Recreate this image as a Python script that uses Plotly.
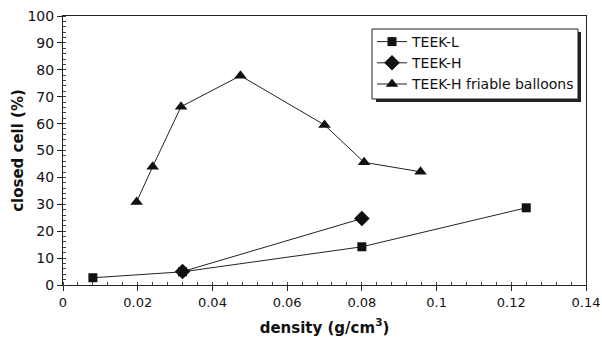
import plotly.graph_objects as go

teek_l_x = [0.008, 0.032, 0.080, 0.124]
teek_l_y = [2.7, 4.9, 14.2, 28.7]
teek_h_x = [0.032, 0.080]
teek_h_y = [5.0, 24.7]
fri_x = [0.0197, 0.0240, 0.0316, 0.0475, 0.0700, 0.0806, 0.0957]
fri_y = [30.9, 44.0, 66.3, 77.8, 59.5, 45.6, 42.1]

x_ticks = [0, 0.02, 0.04, 0.06, 0.08, 0.1, 0.12, 0.14]
x_labels = ["0", "0.02", "0.04", "0.06", "0.08", "0.1", "0.12", "0.14"]
y_ticks = list(range(0, 101, 10))

font = "DejaVu Sans"
L, R, T, B = 63, 16, 16, 58
PW = 602 - L - R
PH = 343 - T - B

def px(xp):
    return (xp - L) / PW

def py(yp):
    return (343 - B - yp) / PH

fig = go.Figure()
fig.add_trace(go.Scatter(x=teek_l_x, y=teek_l_y, name="TEEK-L", mode="lines+markers",
                         line=dict(color="#222", width=1),
                         marker=dict(symbol="square", size=9, color="#111")))
fig.add_trace(go.Scatter(x=teek_h_x, y=teek_h_y, name="TEEK-H", mode="lines+markers",
                         line=dict(color="#222", width=1),
                         marker=dict(symbol="diamond", size=12, color="#111")))
fig.add_trace(go.Scatter(x=fri_x, y=fri_y, name="TEEK-H friable balloons", mode="lines+markers",
                         line=dict(color="#222", width=1),
                         marker=dict(symbol="triangle-up", size=11, color="#111")))

# legend box with shadow
fig.add_shape(type="rect", xref="paper", yref="paper",
              x0=px(376), x1=px(581), y0=py(102), y1=py(32),
              fillcolor="#222", line=dict(width=0), layer="below")
fig.add_shape(type="rect", xref="paper", yref="paper",
              x0=px(372), x1=px(578), y0=py(99), y1=py(29),
              fillcolor="white", line=dict(color="#222", width=1), layer="below")

fig.update_layout(
    width=602, height=343,
    margin=dict(l=L, r=R, t=T, b=B),
    plot_bgcolor="white", paper_bgcolor="white",
    font=dict(family=font, color="#111", size=13),
    showlegend=True,
    legend=dict(x=px(372), y=py(26), xanchor="left", yanchor="top",
                bgcolor="rgba(255,255,255,0)", borderwidth=0,
                font=dict(size=14, family=font), tracegroupgap=0, itemwidth=30,
                traceorder="normal"),
    xaxis=dict(range=[0, 0.14], tickvals=x_ticks, ticktext=x_labels,
               showgrid=False, zeroline=False, showline=True, linecolor="#222",
               linewidth=1, mirror=True, ticks="outside", ticklen=5, tickcolor="#222",
               ticklabeloverflow="allow", automargin=False,
               minor=dict(dtick=0.004, ticks="inside", ticklen=3, tickcolor="#444"),
               title=dict(text="<b>density (g/cm<sup>3</sup>)</b>", font=dict(size=15), standoff=13),
               tickfont=dict(size=13)),
    yaxis=dict(range=[0, 100], tickvals=y_ticks, automargin=False,
               showgrid=False, zeroline=False, showline=True, linecolor="#222",
               linewidth=1, mirror=True, ticks="outside", ticklen=5, tickcolor="#222",
               minor=dict(dtick=2, ticks="inside", ticklen=3, tickcolor="#444"),
               title=dict(text="<b>closed cell (%)</b>", font=dict(size=15), standoff=0),
               tickfont=dict(size=14)),
)
fig.write_html("out.html")
